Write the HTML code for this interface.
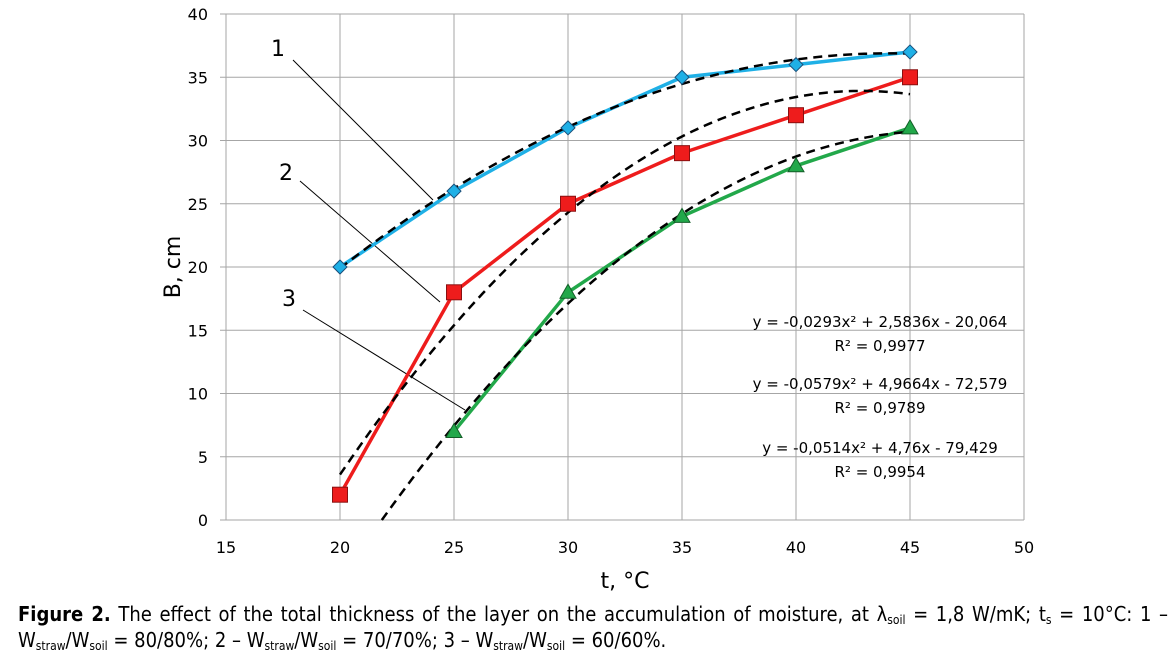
<!DOCTYPE html>
<html><head><meta charset="utf-8"><style>
body{margin:0;background:#fff;width:1172px;height:663px;overflow:hidden;font-family:"DejaVu Sans","Liberation Sans",sans-serif}
svg{position:absolute;left:0;top:0}
.cap{position:absolute;left:18px;top:601px;width:1150px;font-size:20px;line-height:26px;color:#000;font-family:"DejaVu Sans Condensed","DejaVu Sans",sans-serif}
.l1{text-align:justify;text-align-last:justify;white-space:nowrap}
sub{font-size:12px;vertical-align:-3px;line-height:0}
</style></head><body>
<svg id="chart" width="1172" height="600"></svg>
<div class="cap"><div class="l1"><b>Figure 2.</b> The effect of the total thickness of the layer on the accumulation of moisture, at λ<sub>soil</sub> = 1,8 W/mK; t<sub>s</sub> = 10°C: 1 –</div><div>W<sub>straw</sub>/W<sub>soil</sub> = 80/80%; 2 – W<sub>straw</sub>/W<sub>soil</sub> = 70/70%; 3 – W<sub>straw</sub>/W<sub>soil</sub> = 60/60%.</div></div>
<script>
const xTicks=[15,20,25,30,35,40,45,50];
const yTicks=[0,5,10,15,20,25,30,35,40];
const tVals=[20,25,30,35,40,45];
const s1=[20,26,31,35,36,37];
const s2=[2,18,25,29,32,35];
const t3=[25,30,35,40,45];
const s3=[7,18,24,28,31];
const fit1=[-0.0293,2.5836,-20.064];
const fit2=[-0.0579,4.9664,-72.579];
const fit3=[-0.0514,4.76,-79.429];
const NS="http://www.w3.org/2000/svg";
const svg=document.getElementById('chart');
const X=v=>226+(v-15)*(1024-226)/35;
const Y=v=>520-v*(520-14)/40;
function el(tag,attrs,parent){const e=document.createElementNS(NS,tag);for(const k in attrs)e.setAttribute(k,attrs[k]);(parent||svg).appendChild(e);return e;}
xTicks.forEach(v=>{const l=el('line',{x1:X(v),x2:X(v),y1:14,y2:520,stroke:'#a6a6a6','stroke-width':1});


const t=el('text',{x:X(v),y:553,'text-anchor':'middle','font-size':16});t.textContent=v;

});
yTicks.forEach(v=>{const l=el('line',{x1:220,x2:1024,y1:Y(v),y2:Y(v),stroke:'#a6a6a6','stroke-width':1});


const t=el('text',{x:208,y:Y(v)+6,'text-anchor':'end','font-size':16});t.textContent=v;

});
let t=el('text',{x:625,y:588,'text-anchor':'middle','font-size':22});t.textContent='t, °C';

t=el('text',{x:0,y:0,'text-anchor':'middle','font-size':22,transform:'translate(180,267) rotate(-90)'});t.textContent='B, cm';

[[293,60,433,200,'1',278,56],[300,181,440,302,'2',286,180],[303,310,465,410,'3',289,306]].forEach(a=>{
const l=el('line',{x1:a[0],y1:a[1],x2:a[2],y2:a[3],stroke:'#000','stroke-width':1});

const tt=el('text',{x:a[5],y:a[6],'font-size':22,'text-anchor':'middle'});tt.textContent=a[4];
});
function series(ts,vs,color,name){const p=el('polyline',{points:ts.map((x,i)=>X(x)+','+Y(vs[i])).join(' '),fill:'none',stroke:color,'stroke-width':3.5,'stroke-linejoin':'round'});
}
function fit(c,x0,x1,name){let pts=[];for(let x=x0;x<=x1+1e-9;x+=0.25){pts.push(X(x)+','+Y(c[0]*x*x+c[1]*x+c[2]));}
const p=el('polyline',{points:pts.join(' '),fill:'none',stroke:'#000','stroke-width':2.5,'stroke-dasharray':'9,6'});
}
series(tVals,s1,'#1fb0e6','series-1');series(tVals,s2,'#ee1c1c','series-2');series(t3,s3,'#22a84a','series-3');
fit(fit1,20,45,'trendline-1');fit(fit2,20,45,'trendline-2');
const x3=(-fit3[1]+Math.sqrt(fit3[1]*fit3[1]-4*fit3[0]*fit3[2]))/(2*fit3[0]);
fit(fit3,Math.max(x3,20),45,'trendline-3');
tVals.forEach((x,i)=>{const cx=X(x),cy=Y(s1[i]);const m=el('polygon',{points:`${cx},${cy-7} ${cx+7},${cy} ${cx},${cy+7} ${cx-7},${cy}`,fill:'#1fb0e6',stroke:'#1a4f7a','stroke-width':1});
});
tVals.forEach((x,i)=>{const m=el('rect',{x:X(x)-7.5,y:Y(s2[i])-7.5,width:15,height:15,fill:'#ee1c1c',stroke:'#8a1010','stroke-width':1});
});
t3.forEach((x,i)=>{const cx=X(x),cy=Y(s3[i]);const m=el('polygon',{points:`${cx},${cy-8} ${cx+8},${cy+6} ${cx-8},${cy+6}`,fill:'#22a84a',stroke:'#135e28','stroke-width':1});
});
[['y = -0,0293x² + 2,5836x - 20,064',327],['R² = 0,9977',351],['y = -0,0579x² + 4,9664x - 72,579',389],['R² = 0,9789',413],['y = -0,0514x² + 4,76x - 79,429',453],['R² = 0,9954',477]].forEach(e=>{
const tt=el('text',{x:880,y:e[1],'text-anchor':'middle','font-size':15});tt.textContent=e[0];
});
</script>
</body></html>
